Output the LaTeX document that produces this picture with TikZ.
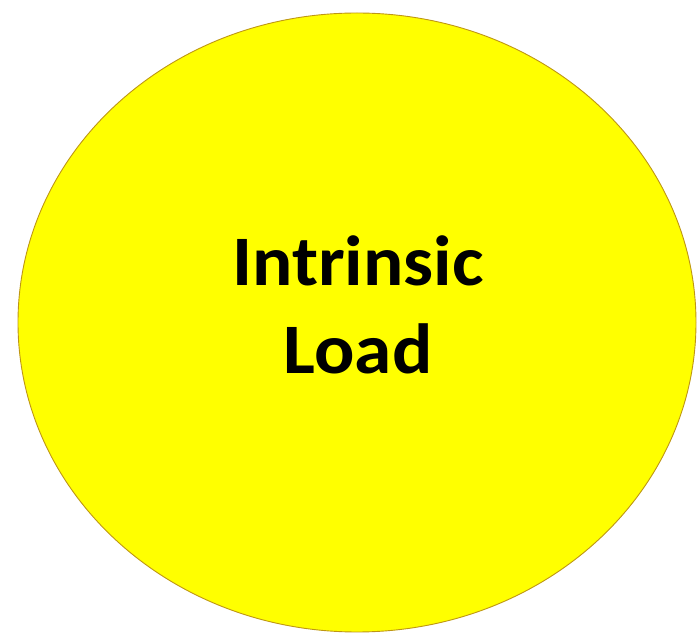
\documentclass[tikz,border=0pt]{standalone}
\usepackage{fontspec}
\setmainfont{Carlito}
\usepackage{xcolor}
\usepackage{tikz}

\definecolor{loadyellow}{RGB}{255,255,0}
\definecolor{loadedge}{RGB}{190,150,20}

\begin{document}
\begin{tikzpicture}[x=1pt, y=1pt]
  \useasboundingbox (0,0) rectangle (697,635);

  \draw[fill=loadyellow, draw=loadedge, line width=0.9pt]
        (357,312.5) ellipse [x radius=339, y radius=309.5];

  \node[align=center, font=\fontsize{71}{88}\selectfont\bfseries, inner sep=0pt, xscale=1.06] (load)
        at (358,330) {Intrinsic\\Load};

\end{tikzpicture}
\end{document}
